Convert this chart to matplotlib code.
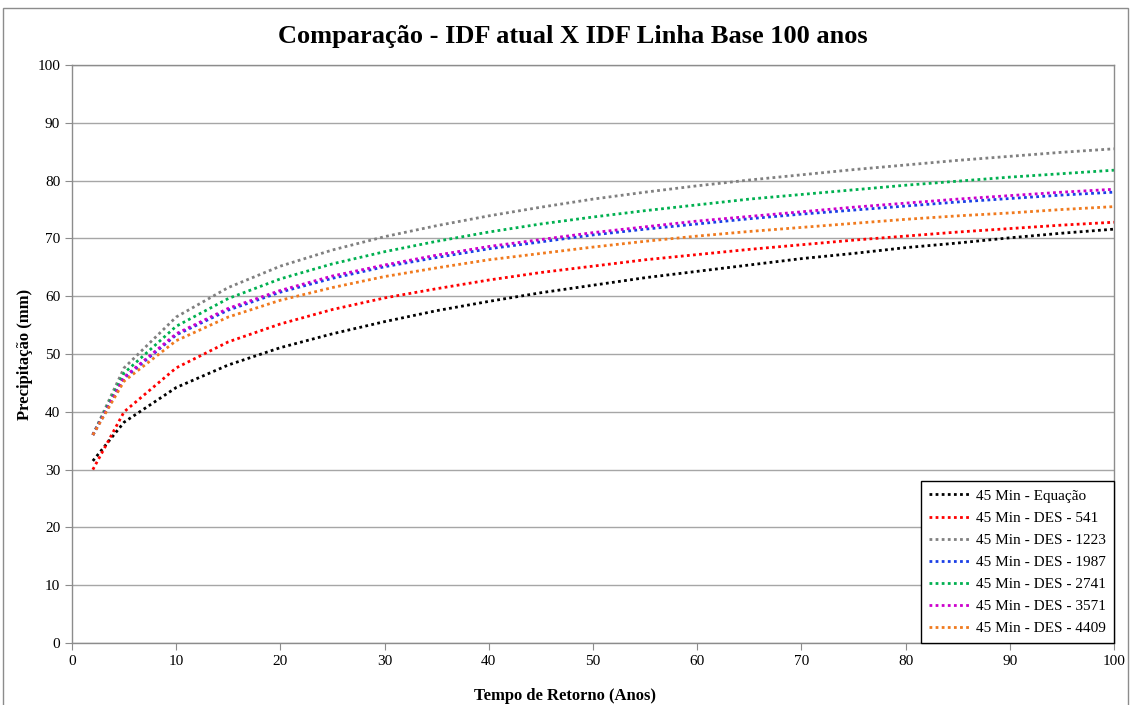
import matplotlib
matplotlib.use("Agg")
import matplotlib.pyplot as plt
from matplotlib.patches import Rectangle

T = [2, 5, 10, 15, 20, 25, 30, 35, 40, 45, 50, 55, 60, 65, 70, 75, 80, 85, 90, 95, 100]

eq = [31.5, 38.2, 44.2, 48.1, 51.1, 53.5, 55.6, 57.5, 59.1, 60.6, 61.9, 63.2, 64.3, 65.4, 66.5, 67.4, 68.4, 69.2, 70.1, 70.9, 71.6]
des541 = [30.0, 40.0, 47.6, 52.1, 55.2, 57.7, 59.7, 61.3, 62.8, 64.1, 65.2, 66.3, 67.2, 68.1, 68.9, 69.7, 70.4, 71.1, 71.7, 72.3, 72.8]
des1223 = [36.0, 47.6, 56.4, 61.5, 65.2, 68.0, 70.3, 72.2, 73.9, 75.4, 76.8, 78.0, 79.1, 80.1, 81.0, 81.9, 82.7, 83.5, 84.2, 84.9, 85.5]
des1987 = [36.0, 45.8, 53.3, 57.6, 60.7, 63.1, 65.1, 66.7, 68.2, 69.4, 70.6, 71.6, 72.5, 73.4, 74.2, 74.9, 75.6, 76.3, 76.9, 77.5, 78.0]
des2741 = [36.0, 46.7, 54.8, 59.6, 63.0, 65.6, 67.7, 69.5, 71.1, 72.5, 73.7, 74.8, 75.8, 76.8, 77.6, 78.4, 79.2, 79.9, 80.6, 81.2, 81.8]
des3571 = [36.0, 46.0, 53.5, 57.9, 61.0, 63.5, 65.4, 67.1, 68.6, 69.8, 71.0, 72.0, 73.0, 73.8, 74.6, 75.4, 76.1, 76.8, 77.4, 78.0, 78.5]
des4409 = [36.0, 45.3, 52.3, 56.4, 59.3, 61.5, 63.4, 64.9, 66.3, 67.4, 68.5, 69.5, 70.4, 71.2, 71.9, 72.6, 73.3, 73.9, 74.4, 75.0, 75.5]

labels = ["45 Min - Equação", "45 Min - DES - 541", "45 Min - DES - 1223",
          "45 Min - DES - 1987", "45 Min - DES - 2741", "45 Min - DES - 3571",
          "45 Min - DES - 4409"]
colors = ["#000000", "#FF0000", "#808080", "#1A3FE6", "#00B050", "#CC00CC", "#F07A1E"]
series = [eq, des541, des1223, des1987, des2741, des3571, des4409]

plt.rcParams['font.family'] = ['Liberation Serif', 'DejaVu Serif']

W, H = 1134, 705
fig = plt.figure(figsize=(W / 100, H / 100), dpi=100)
ax = fig.add_axes([72 / W, 1 - 643 / H, (1114 - 72) / W, (643 - 65) / H])

fig.patches.append(Rectangle((3 / W, -0.01), (1128 - 3) / W, 1 - 8 / H + 0.01,
                             transform=fig.transFigure, fill=False,
                             edgecolor="#8c8c8c", linewidth=1.0))

for s, lab, c in zip(series, labels, colors):
    ax.plot(T, s, color=c, linewidth=2.0, linestyle=(0, (1, 1.2)), label=lab)

ax.set_xlim(0, 100)
ax.set_ylim(0, 100)
ax.set_xticks(range(0, 101, 10))
ax.set_yticks(range(0, 101, 10))
ax.yaxis.grid(True, color="#a6a6a6", linewidth=1.0)
ax.set_axisbelow(True)
for sp in ax.spines.values():
    sp.set_color("#8c8c8c")
    sp.set_linewidth(1.0)
ax.tick_params(axis="both", colors="#8c8c8c", labelcolor="black", labelsize=11,
               length=5, direction="out")

fig.text(565 / W, 1 - 696 / H, "Tempo de Retorno (Anos)", ha="center", va="center",
         fontsize=12, fontweight="bold")
fig.text(25 / W, 1 - 354 / H, "Precipitação (mm)", ha="center", va="center",
         rotation=90, fontsize=12, fontweight="bold")
fig.text(573 / W, 1 - 37 / H, "Comparação - IDF atual X IDF Linha Base 100 anos",
         ha="center", va="center", fontsize=19, fontweight="bold")

leg = ax.legend(loc="lower right", fontsize=11, frameon=True, fancybox=False,
                edgecolor="black", framealpha=1, borderaxespad=0.0,
                handlelength=2.6, handletextpad=0.5, labelspacing=0.55,
                borderpad=0.5)
leg.get_frame().set_linewidth(1.0)

fig.savefig("out.png", dpi=100)
